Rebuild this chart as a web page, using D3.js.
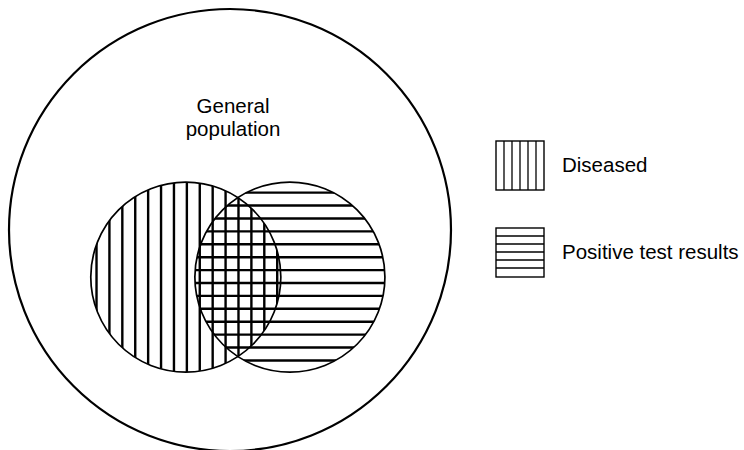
<!DOCTYPE html>
<html>
<head>
<meta charset="utf-8">
<script src="https://cdn.jsdelivr.net/npm/d3@7"></script>
<style>
  html, body { margin: 0; padding: 0; background: #fff; }
  svg { display: block; }
  text { font-family: "Liberation Sans", Arial, Helvetica, sans-serif; fill: #000; }
</style>
</head>
<body>
<svg id="chart" width="744" height="450"></svg>
<script>
// ---- data ----
const setNames = ["General population", "Diseased", "Positive test results"];
const setCx = [0, -20, 27.1];      // centre x, units (population radius = 100)
const setCy = [0, 21.3, 21.3];     // centre y, units
const setR  = [100, 43, 43];       // radius, units
const hatch = [null, "vertical", "horizontal"];
const hatchStep = 5.84;            // units between hatch lines
const hatchStart = [null, -60.4, -16.9]; // first hatch line, units
const legendItems = ["Diseased", "Positive test results"];
const legendHatch = ["vertical", "horizontal"];

// ---- layout ----
const svg = d3.select("#chart");
const W = 744, H = 450;
const x = d3.scaleLinear().domain([-100, 100]).range([9, 451]);
const y = d3.scaleLinear().domain([-100, 100]).range([9, 451]);
const k = x(1) - x(0);

const defs = svg.append("defs");

svg.append("rect").attr("width", W).attr("height", H).attr("fill", "#fff");

// population circle
svg.append("circle")
  .attr("cx", x(setCx[0])).attr("cy", y(setCy[0])).attr("r", setR[0] * k)
  .attr("fill", "none").attr("stroke", "#000").attr("stroke-width", 2.2);

// population label
const lbl = svg.append("text")
  .attr("text-anchor", "middle")
  .style("font-size", "20.5px");
lbl.append("tspan").attr("x", 233).attr("y", 113).text("General");
lbl.append("tspan").attr("x", 233).attr("y", 136).text("population");

// hatched subsets
[1, 2].forEach(i => {
  const cx = x(setCx[i]), cy = y(setCy[i]), r = setR[i] * k;
  defs.append("clipPath").attr("id", "clip" + i)
    .append("circle").attr("cx", cx).attr("cy", cy).attr("r", r);
  const g = svg.append("g").attr("clip-path", `url(#clip${i})`);
  if (hatch[i] === "vertical") {
    const vals = d3.range(hatchStart[i], setCx[i] + setR[i], hatchStep);
    g.selectAll("line").data(vals).join("line")
      .attr("x1", d => x(d)).attr("x2", d => x(d))
      .attr("y1", cy - r).attr("y2", cy + r)
      .attr("stroke", "#000").attr("stroke-width", 2.4);
  } else {
    const vals = d3.range(hatchStart[i], setCy[i] + setR[i], hatchStep);
    g.selectAll("line").data(vals).join("line")
      .attr("y1", d => y(d)).attr("y2", d => y(d))
      .attr("x1", cx - r).attr("x2", cx + r)
      .attr("stroke", "#000").attr("stroke-width", 2.4);
  }
});
[1, 2].forEach(i => {
  svg.append("circle")
    .attr("cx", x(setCx[i])).attr("cy", y(setCy[i])).attr("r", setR[i] * k)
    .attr("fill", "none").attr("stroke", "#000").attr("stroke-width", 1.7);
});

// legend
const lx = 496, ly = [141, 228], bw = 48, bh = 49, lstep = 8;
legendItems.forEach((name, j) => {
  const g = svg.append("g").attr("transform", `translate(${lx},${ly[j]})`);
  g.append("rect").attr("width", bw).attr("height", bh)
    .attr("fill", "#fff").attr("stroke", "#000").attr("stroke-width", 1.4);
  if (legendHatch[j] === "vertical") {
    g.selectAll("line.h").data(d3.range(lstep, bw - 1, lstep)).join("line")
      .attr("x1", d => d).attr("x2", d => d).attr("y1", 0).attr("y2", bh)
      .attr("stroke", "#000").attr("stroke-width", 1.3);
  } else {
    g.selectAll("line.h").data(d3.range(lstep, bh - 1, lstep)).join("line")
      .attr("y1", d => d).attr("y2", d => d).attr("x1", 0).attr("x2", bw)
      .attr("stroke", "#000").attr("stroke-width", 1.3);
  }
  g.append("text").attr("x", 66).attr("y", bh / 2 + 6)
    .style("font-size", "20.5px").text(name);
});
</script>
</body>
</html>
